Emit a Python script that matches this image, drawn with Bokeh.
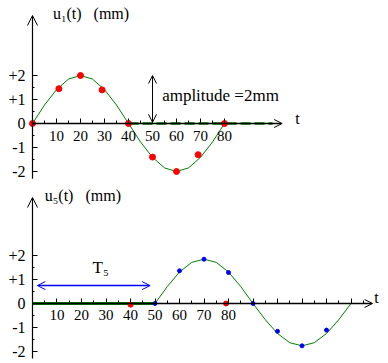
from bokeh.plotting import figure
from bokeh.layouts import column
from bokeh.models import LinearAxis, FixedTicker, Arrow, OpenHead, Range1d, Label
from bokeh.embed import file_html
from bokeh.resources import INLINE

# ---------------- data ----------------
# top panel: u1(t)
t_wave1 = [0, 5, 10, 15, 20, 25, 30, 35, 40, 45, 50, 55, 60, 65, 70, 75, 80]
u_wave1 = [0, 0.77, 1.41, 1.85, 2.0, 1.85, 1.41, 0.77, 0, -0.77, -1.41, -1.85, -2.0, -1.85, -1.41, -0.77, 0]
t_dots1 = [0, 11, 20, 29, 40, 50, 60, 69, 80]
u_dots1 = [0, 1.45, 2.0, 1.4, 0, -1.4, -2.0, -1.3, 0]
t_rest1 = [40, 100]
u_rest1 = [0, 0]

# bottom panel: u5(t)
t_wave5 = [50, 55, 60, 65, 70, 75, 80, 85, 90, 95, 100, 105, 110, 115, 120, 125, 130]
u_wave5 = [0, 0.7, 1.3, 1.7, 1.83, 1.7, 1.3, 0.7, 0, -0.67, -1.24, -1.62, -1.75, -1.62, -1.24, -0.67, 0]
t_dots5 = [50, 60, 70, 80, 90, 100, 110, 120]
u_dots5 = [0, 1.35, 1.83, 1.28, 0, -1.15, -1.75, -1.1]
t_red5 = [40, 79]
u_red5 = [-0.05, 0]
t_rest5 = [0, 50]
u_rest5 = [0, 0]

x_tick_labels = [10, 20, 30, 40, 50, 60, 70, 80]
y_tick_labels = {2: "+2", 1: "+1", 0: "0", -1: "-1", -2: "-2"}

FONT = "Liberation Serif"
GREEN = "#008000"
NB = "\u00a0"


def make_fig(height, xr, yr):
    p = figure(width=388, height=height, x_range=Range1d(*xr), y_range=Range1d(*yr),
               toolbar_location=None, output_backend="svg",
               x_axis_type=None, y_axis_type=None, min_border=0,
               outline_line_color=None, background_fill_color="white",
               border_fill_color="white")
    return p


def add_axes(p, x_majors, x_minors, overrides, x_end, y_lo, y_hi):
    xa = LinearAxis(fixed_location=0,
                    ticker=FixedTicker(ticks=x_majors, minor_ticks=x_minors),
                    major_label_overrides=overrides,
                    axis_line_color=None,
                    major_tick_in=5, major_tick_out=0,
                    minor_tick_in=3, minor_tick_out=0,
                    major_tick_line_color="black", minor_tick_line_color="black",
                    major_label_text_font=FONT, major_label_text_font_size="15px",
                    major_label_text_color="black", major_label_standoff=7)
    p.add_layout(xa, "below")
    ya = LinearAxis(fixed_location=0,
                    ticker=FixedTicker(ticks=list(y_tick_labels.keys()),
                                       minor_ticks=[-1.5, -0.5, 0.5, 1.5]),
                    major_label_overrides=y_tick_labels,
                    axis_line_color=None,
                    major_tick_in=5, major_tick_out=0,
                    minor_tick_in=2, minor_tick_out=0,
                    major_tick_line_color="black", minor_tick_line_color="black",
                    major_label_text_font=FONT, major_label_text_font_size="16px",
                    major_label_text_color="black", major_label_standoff=7)
    p.add_layout(ya, "left")
    p.add_layout(Arrow(end=OpenHead(size=8, line_color="black", line_width=1),
                       x_start=0, y_start=0, x_end=x_end, y_end=0,
                       line_color="black", line_width=1.5))
    p.add_layout(Arrow(end=OpenHead(size=10, line_color="black", line_width=1),
                       x_start=0, y_start=y_lo, x_end=0, y_end=y_hi,
                       line_color="black", line_width=1.2))


# ---------------- top panel ----------------
p1 = make_fig(180, (-13.33, 148.3), (-2.375, 5.125))
add_axes(p1, x_tick_labels, [5, 15, 25, 35, 45, 55, 65, 75], {}, 104, -2.3, 4.5)
p1.line(t_rest1, u_rest1, line_color=GREEN, line_width=2.5, line_dash="10 4")
p1.line(t_wave1, u_wave1, line_color=GREEN, line_width=1)
p1.scatter(t_dots1, u_dots1, size=6, color="red")
p1.add_layout(Arrow(start=OpenHead(size=8, line_color="black", line_width=1),
                    end=OpenHead(size=8, line_color="black", line_width=1),
                    x_start=50, y_start=0.05, x_end=50, y_end=2.0,
                    line_color="black", line_width=1))
p1.add_layout(Label(x=54, y=1.17, text="amplitude =2mm", text_font=FONT,
                    text_font_size="17px", text_baseline="middle", text_color="black"))
p1.add_layout(Label(x=8.5, y=4.58, text="u\u2081(t)" + NB * 3 + "(mm)", text_font=FONT,
                    text_font_size="16px", text_baseline="middle", text_color="black"))
p1.add_layout(Label(x=109.5, y=0.22, text="t", text_font=FONT,
                    text_font_size="16px", text_baseline="middle", text_color="black"))

# ---------------- bottom panel ----------------
x_majors5 = [10, 20, 30, 40, 50, 60, 70, 80, 90, 100, 110, 120, 130]
over5 = {90: "", 100: "", 110: "", 120: "", 130: ""}
p2 = make_fig(183, (-13.06, 145.3), (-2.48, 5.083))
add_axes(p2, x_majors5, [5, 15, 25, 35, 45, 55, 65, 75, 85, 95, 105, 115, 125, 135],
         over5, 138.8, -2.27, 4.38)
p2.line(t_rest5, u_rest5, line_color=GREEN, line_width=3)
p2.line(t_wave5, u_wave5, line_color=GREEN, line_width=1)
p2.scatter(t_red5, u_red5, size=5, color="red")
p2.scatter(t_dots5, u_dots5, size=4, color="blue")
p2.add_layout(Arrow(start=OpenHead(size=8, line_color="blue", line_width=1),
                    end=OpenHead(size=8, line_color="blue", line_width=1),
                    x_start=2, y_start=0.74, x_end=48, y_end=0.74,
                    line_color="blue", line_width=1.5))
p2.add_layout(Label(x=24.5, y=1.49, text="T\u2085", text_font=FONT,
                    text_font_size="17px", text_baseline="middle", text_color="black"))
p2.add_layout(Label(x=5, y=4.46, text="u\u2085(t)" + NB * 3 + "(mm)", text_font=FONT,
                    text_font_size="16px", text_baseline="middle", text_color="black"))
p2.add_layout(Label(x=139.5, y=0.25, text="t", text_font=FONT,
                    text_font_size="16px", text_baseline="middle", text_color="black"))

layout = column(p1, p2, spacing=0)
open("out.html", "w").write(file_html(layout, INLINE))
